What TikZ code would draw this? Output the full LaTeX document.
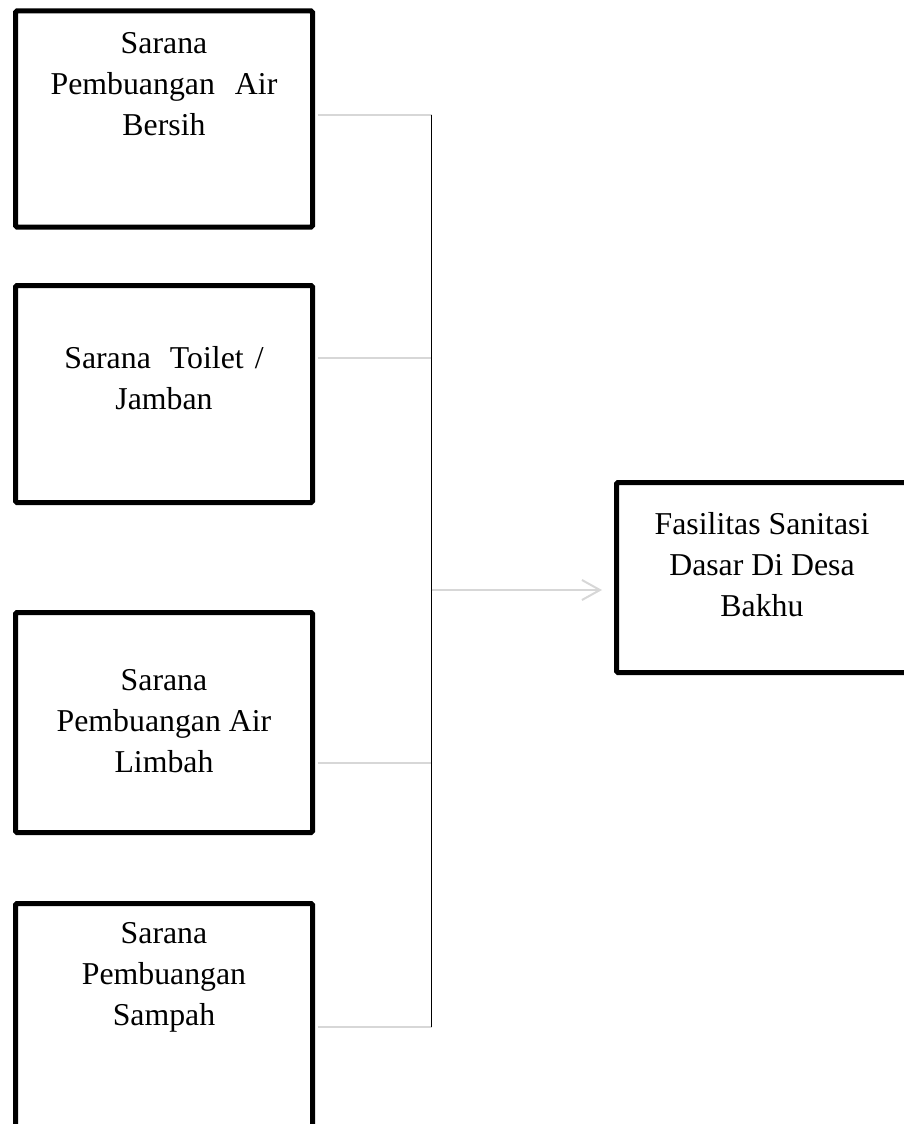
\documentclass[tikz,border=0pt]{standalone}
\usepackage{fontspec}
\setmainfont{Liberation Serif}
\usetikzlibrary{arrows.meta}
\definecolor{lgray}{RGB}{215,215,215}
\begin{document}
\begin{tikzpicture}[x=1pt,y=-1pt,
  box/.style={rectangle, draw=black, line width=5pt, rounded corners=1.5pt, inner sep=0pt},
  txt/.style={align=center, inner sep=0pt, anchor=north, font=\fontsize{31.8}{41}\selectfont},
  conn/.style={draw=lgray, line width=2pt},
  spine/.style={draw=black, line width=1.5pt}]
\useasboundingbox (0,0) rectangle (903,1124);
% boxes
\node[box, minimum width=297pt, minimum height=216pt] (b1) at (164,119) {};
\node[box, minimum width=297pt, minimum height=217pt] (b2) at (164,394) {};
\node[box, minimum width=297pt, minimum height=220pt] (b3) at (164,722.5) {};
\node[box, minimum width=297pt, minimum height=226.5pt] (b4) at (164,1016.75) {};
\node[box, minimum width=293.5pt, minimum height=190pt] (goal) at (763.25,577.5) {};
% texts
\node[txt] (t1) at (164,24.3) {\strut Sarana\\Pembuangan\hspace{0.63em}Air\\Bersih};
\node[txt] (t2) at (164,339.3) {\strut Sarana\hspace{0.6em}Toilet\hspace{0.35em}/\\Jamban};
\node[txt] (t3) at (164,661.3) {\strut Sarana\\Pembuangan Air\\Limbah};
\node[txt] (t4) at (164,914.3) {\strut Sarana\\Pembuangan\\Sampah};
\node[txt] (t5) at (762,505.3) {\strut Fasilitas Sanitasi\\Dasar Di Desa\\Bakhu};
% junction points on the spine
\coordinate (j1) at (431.5,115);
\coordinate (j2) at (431.5,358);
\coordinate (j3) at (431.5,763);
\coordinate (j4) at (431.5,1027);
\coordinate (ja) at (431.5,590);
% connectors
\draw[conn] ([xshift=2.5pt]b1.east |- j1) -- (j1);
\draw[conn] ([xshift=2.5pt]b2.east |- j2) -- (j2);
\draw[conn] ([xshift=2.5pt]b3.east |- j3) -- (j3);
\draw[conn] ([xshift=2.5pt]b4.east |- j4) -- (j4);
\draw[spine] (j1) -- (j4);
\draw[conn, -{Straight Barb[length=18pt,width=20pt]}, shorten >=12pt] (ja) -- (goal.west |- ja);
\end{tikzpicture}
\end{document}
